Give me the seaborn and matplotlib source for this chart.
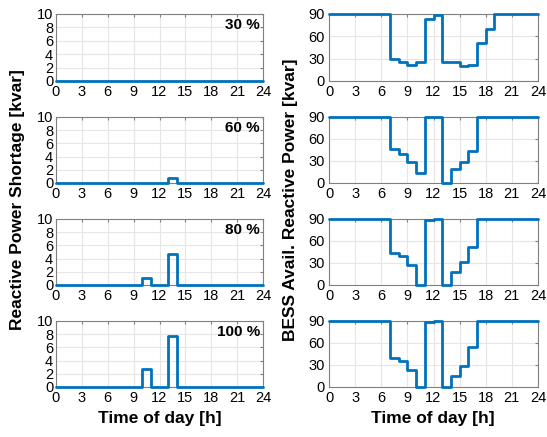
import matplotlib
matplotlib.use("Agg")
import matplotlib.pyplot as plt
import seaborn as sns
import numpy as np

sns.set_style("white")
plt.rcParams['font.family'] = ['Liberation Sans', 'DejaVu Sans']
plt.rcParams['text.color'] = 'black'
plt.rcParams['xtick.labelcolor'] = 'black'
plt.rcParams['ytick.labelcolor'] = 'black'

hours = np.arange(0, 25)
levels = ['30 %', '60 %', '80 %', '100 %']

# reactive power shortage [kvar], one value per hour (0..23)
short_30 = [0]*24
short_60 = [0]*13 + [0.7] + [0]*10
short_80 = [0]*10 + [1.1, 0, 0, 4.7] + [0]*10
short_100 = [0]*10 + [2.8, 0, 0, 7.8] + [0]*10

# BESS available reactive power [kvar]
bess_30 = [90]*7 + [29, 25, 22, 26, 83, 88, 26, 25, 20, 22, 51, 70] + [90]*5
bess_60 = [90]*7 + [47, 39, 29, 13, 90, 90, 0, 19, 29, 44] + [90]*7
bess_80 = [90]*7 + [43, 39, 27, 0, 89, 90, 0, 18, 31, 52] + [90]*7
bess_100 = [90]*7 + [40, 36, 23, 0, 89, 90, 0, 15, 28, 55] + [90]*7

shortage = [short_30, short_60, short_80, short_100]
bess = [bess_30, bess_60, bess_80, bess_100]

W, H = 547, 437
fig = plt.figure(figsize=(W/100, H/100), dpi=100)

tops = [14, 117, 219, 321]
bots = [81, 183, 285, 387]
col_x = [(56, 263), (329, 538)]

line_c = '#0072BD'
spine_c = '#808080'

def style(ax, yticks):
    ax.set_xlim(0, 24)
    ax.set_xticks(range(0, 25, 3))
    ax.set_yticks(yticks)
    ax.set_ylim(yticks[0], yticks[-1])
    ax.grid(True, color='#e6e6e6', linewidth=0.8)
    ax.set_axisbelow(True)
    for s in ax.spines.values():
        s.set_color(spine_c)
        s.set_linewidth(0.8)
    ax.tick_params(direction='in', length=2.5, color=spine_c, labelsize=10.5,
                   pad=3, top=True, right=True, labeltop=False, labelright=False)
    ax.set_xlabel('')
    ax.set_ylabel('')

for i in range(4):
    for c in range(2):
        x0, x1 = col_x[c]
        ax = fig.add_axes([x0/W, 1 - bots[i]/H, (x1-x0)/W, (bots[i]-tops[i])/H])
        vals = shortage[i] if c == 0 else bess[i]
        y = list(vals) + [vals[-1]]
        sns.lineplot(x=hours, y=y, ax=ax, color=line_c, linewidth=2,
                     drawstyle='steps-post', clip_on=False, zorder=3)
        if c == 0:
            style(ax, [0, 2, 4, 6, 8, 10])
            ax.tick_params(axis='y', pad=2)
            ax.text(0.985, 0.83, levels[i], transform=ax.transAxes,
                    ha='right', va='center', fontsize=11, fontweight='bold')
        else:
            style(ax, [0, 30, 60, 90])

fig.text(18/W, 1 - 200/H, 'Reactive Power Shortage [kvar]', rotation=90,
         ha='center', va='center', fontsize=12.5, fontweight='bold')
fig.text(290/W, 1 - 200/H, 'BESS Avail. Reactive Power [kvar]', rotation=90,
         ha='center', va='center', fontsize=12.5, fontweight='bold')
fig.text(160/W, 1 - 418/H, 'Time of day [h]', ha='center', va='center',
         fontsize=12.5, fontweight='bold')
fig.text(433/W, 1 - 418/H, 'Time of day [h]', ha='center', va='center',
         fontsize=12.5, fontweight='bold')

fig.savefig('out.png', dpi=100)
